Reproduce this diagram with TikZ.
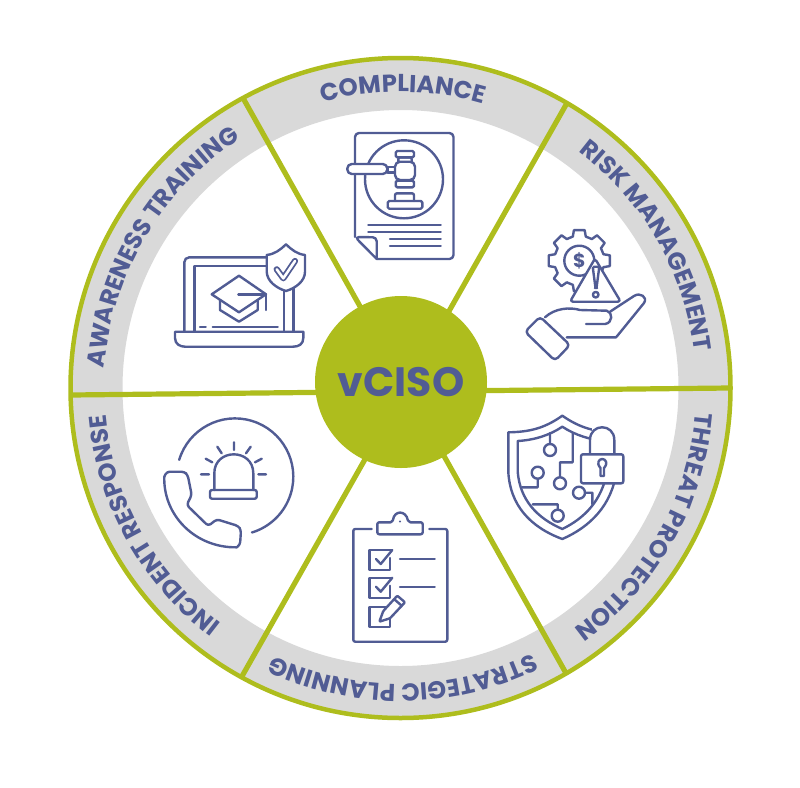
\documentclass[tikz,border=0pt]{standalone}
\usepackage{fontspec}
\setmainfont{Poppins}
\usetikzlibrary{decorations.text}
\definecolor{lime}{HTML}{AEBD1D}
\definecolor{slate}{HTML}{515C94}
\definecolor{band}{HTML}{D9D9D9}
\tikzset{
    spoke/.style = {draw = lime, line width = 5.2pt},
    hub/.style = {circle, fill = lime, text = slate, minimum size = 172pt, inner sep = 0pt, font = \fontsize{41}{41}\selectfont\bfseries},
    icon/.style = {draw = slate, line width = 2.4pt, line join = round, line cap = round},
    cover/.style = {icon, fill = white},
    ringtext/.style = {decorate, decoration = {text along path, text align = center, text = {|\fontsize{24.5}{24.5}\selectfont\bfseries\color{slate}|#1}}}
}
\begin{document}
\begin{tikzpicture}[x = 1pt, y = -1pt]
        \useasboundingbox (0, 0) rectangle (800, 787);
        \coordinate (mid) at (400.5, 388);

        % ring
        \fill [band, even odd rule] (mid) circle [radius = 330] (mid) circle [radius = 278];
        \draw [lime, line width = 4.5pt] (mid) circle [radius = 330];

        \foreach \ang/\txt in {270.5/COMPLIANCE, 330/RISK MANAGEMENT, 29.5/THRE{AT} PROTECTION, 89.5/STRATEGIC PLANNING, 151/INCIDENT RESPONSE, 210.5/{AWA}RENESS TRAINING} {
            \path [ringtext = {\txt}] (mid) ++(\ang - 33:296) arc [start angle = \ang - 33, end angle = \ang + 33, radius = 296];
        }

        % spokes and hub
        \draw [spoke]
            (243, 98) coordinate (rima) -- (567, 675) coordinate (rimd)
            (567, 103) coordinate (rimb) -- (241, 678) coordinate (rime)
            (71, 395) coordinate (rimf) -- (730, 388) coordinate (rimc)
        ;
        \node (center) [hub] at (401, 382) {\raisebox{-3pt}{vCISO}};

        % compliance: page and gavel
        \draw [icon, rounded corners = 4pt] (355, 237) -- (355, 133) -- (453.5, 133) -- (453.5, 259) -- (376.7, 259);
        \draw [icon] (355, 237) -- (376.7, 259) -- (376.7, 245) [rounded corners = 4pt] -- (376.7, 237.3) -- cycle;
        \draw [icon] (404, 179.3) circle [radius = 39];
        \draw [cover, rounded corners = 4.5pt] (347.3, 164) rectangle (387.3, 174);
        \draw [icon] (387.3, 167) rectangle (395, 172.5);
        \draw [cover, rounded corners = 2pt] (398.3, 157.3) rectangle (411.7, 187);
        \draw [cover, rounded corners = 1.5pt] (395.7, 151) rectangle (414, 157.3);
        \draw [cover, rounded corners = 1.5pt] (395.7, 180.7) rectangle (414, 187.3);
        \draw [cover, rounded corners = 5pt] (395, 161.7) rectangle (415, 180);
        \draw [icon, rounded corners = 2pt] (395, 201) -- (395, 193.3) -- (414, 193.3) -- (414, 201);
        \draw [icon, rounded corners = 1.5pt] (387.7, 201) rectangle (422.3, 208.7);
        \draw [icon]
            (368.3, 225) -- (440.7, 225)
            (368.3, 232) -- (440.7, 232)
            (390, 239) -- (440.7, 239)
            (390, 246) -- (440.7, 246)
        ;

        % risk: gear, warning sign and hand
        \begin{scope}[shift = {(579.3, 260.7)}]
            \draw [icon] (-15:25) \foreach \a in {0, 45, ..., 315} { -- (\a - 15:25) -- (\a - 10:31) -- (\a + 10:31) -- (\a + 15:25)} -- cycle;
            \draw [icon] (0, 0) circle [radius = 15];
            \node (dollar) [text = slate, font = \fontsize{19}{19}\selectfont\bfseries] at (0, 0) {\$};
        \end{scope}
        \draw [cover, rounded corners = 3pt] (595, 258.5) -- (570, 301.7) -- (620.7, 301.7) -- cycle;
        \draw [icon, rounded corners = 1.5pt] (592.7, 266.7) -- (599.3, 266.7) -- (596.5, 288) -- (595.5, 288) -- cycle;
        \draw [icon] (595.7, 294.7) circle [radius = 2.8];
        \draw [icon, rounded corners = 4pt] (540, 316.7) -- (570, 345) -- (555, 360.7) -- (525, 331.7) -- cycle;
        \draw [icon] (545, 317.3) .. controls (555, 308) and (570, 307) .. (580, 310) -- (606.7, 310.7) .. controls (613, 312) and (613, 323) .. (605, 324) -- (586, 324);
        \draw [icon] (610, 311.7) -- (634, 296) .. controls (640, 292) and (648, 297) .. (644, 303) -- (618, 335) -- (616, 337.3) -- (566.7, 337.3);

        % threat: shield with circuit and padlock
        \draw [icon] (562.3, 415.7) .. controls (545, 428) and (530, 432) .. (508.3, 432.3) -- (508.3, 471.7) .. controls (510, 505) and (530, 527) .. (562.3, 539) .. controls (590, 527) and (612, 505) .. (616.3, 471.7) -- (616.3, 432.3) .. controls (595, 432) and (580, 428) .. (562.3, 415.7) -- cycle;
        \draw [icon] (562.3, 426.7) .. controls (550, 435) and (535, 440) .. (517.7, 441) -- (517.7, 471.7) .. controls (520, 500) and (537, 518) .. (562.3, 529) .. controls (585, 518) and (602, 500) .. (607, 471.7) -- (607, 441) .. controls (590, 440) and (575, 435) .. (562.3, 426.7) -- cycle;
        \fill [white] (592, 424) rectangle (630, 456);
        \draw [cover] (590, 454.3) -- (590, 440) .. controls (590, 423) and (614.3, 423) .. (614.3, 440) -- (614.3, 454.3) -- cycle;
        \draw [cover, rounded corners = 2pt] (581, 454.3) rectangle (623.3, 483.3);
        \draw [icon] (600.5, 468) .. controls (596, 463) and (599, 459) .. (602.3, 459) .. controls (605.5, 459) and (608.5, 463) .. (604, 468) -- (604, 476) -- (600.5, 476) -- cycle;
        \draw [icon]
            (550, 450) circle [radius = 6]
            (550, 444) -- (550, 433)
            (537.7, 472.7) circle [radius = 6]
            (537.7, 478.7) -- (537.7, 487.3) -- (522.3, 487.3)
            (560, 483.3) circle [radius = 6]
            (560, 477.3) -- (560, 462.3) -- (572.7, 462.3) -- (572.7, 433.3)
            (579, 492.7) circle [radius = 6]
            (585, 492.7) -- (592.3, 492.7) -- (592.3, 504.3)
            (557.7, 515.7) circle [radius = 6]
            (557.7, 509.7) -- (557.7, 504.3) -- (532.7, 504.3)
        ;

        % planning: clipboard
        \draw [icon, rounded corners = 2pt] (371.7, 529) -- (353.3, 529) -- (353.3, 641.7) -- (447.3, 641.7) -- (447.3, 529) -- (429.3, 529);
        \draw [icon, rounded corners = 2pt] (377.3, 534.3) -- (377.3, 522.3) -- (392.7, 522.3) .. controls (394, 510) and (406, 510) .. (408.3, 522.3) -- (422.7, 522.3) -- (422.7, 534.3) -- cycle;
        \fill [slate] (400, 521.5) circle [radius = 1.2];
        \foreach \y in {550, 577.7} {
            \draw [icon] (392, \y) -- (369.3, \y) -- (369.3, \y + 20) -- (390, \y + 20) -- (390, \y + 8);
            \draw [icon] (376, \y + 9) -- (380.7, \y + 14) -- (392.3, \y);
            \draw [icon] (400, \y + 9) -- (434.7, \y + 9);
        }
        \draw [icon] (369.3, 606.7) rectangle (390, 626.7);
        \draw [cover, rounded corners = 1pt] (379.3, 621.7) -- (383.3, 611) -- (397.3, 595.7) -- (405, 602.3) -- (390, 618.3) -- cycle;
        \draw [icon] (394.3, 599.3) -- (401.7, 605.7);

        % incident: alarm light and phone
        \draw [icon] (235, 476.7) ++(196.8:58.3) arc [start angle = 196.8, end angle = 433.1, radius = 58.3];
        \draw [icon] (214.3, 490) -- (214.3, 473.3) .. controls (214.3, 448) and (253.3, 448) .. (253.3, 473.3) -- (253.3, 490);
        \draw [icon, rounded corners = 2pt] (210, 490) rectangle (256.7, 498.7);
        \draw [icon]
            (234, 442.3) -- (234, 450)
            (217.3, 446.7) -- (221.7, 453.3)
            (250.7, 446.7) -- (246, 453.3)
            (205.7, 458.7) -- (212.3, 462.3)
            (261.7, 458.7) -- (255, 462.3)
            (201, 474.3) -- (209, 474.3)
            (258.3, 474.3) -- (266, 474.3)
        ;
        \draw [icon, rounded corners = 3pt] (164.3, 476.7) -- (166.7, 471.7) -- (184.3, 471.7) -- (187.7, 475) -- (191.7, 495) -- (186.7, 505) -- (208.3, 526) -- (216.7, 519.3) -- (238.3, 526) -- (241, 530) -- (240, 545) -- (236.7, 547.3);
        \draw [icon] (236.7, 547.3) .. controls (195, 548) and (163, 515) .. (164.3, 476.7);

        % awareness: laptop, cap and shield
        \draw [icon, rounded corners = 5pt] (266.7, 257.3) -- (184.3, 257.3) -- (184.3, 331.7);
        \draw [icon] (266.7, 266) -- (194.3, 266) -- (194.3, 331.7);
        \draw [icon]
            (284, 288.3) -- (284, 331.7)
            (293.3, 288.3) -- (293.3, 331.7)
            (200, 327) -- (205.7, 327)
            (212.7, 327) -- (277.7, 327)
        ;
        \draw [icon] (175, 331.7) -- (175, 338) .. controls (175, 344) and (180, 346.7) .. (185, 346.7) -- (293, 346.7) .. controls (299, 346.7) and (303.3, 344) .. (303.3, 338) -- (303.3, 331.7) -- cycle;
        \draw [cover] (286, 244.3) .. controls (280, 250) and (275, 254) .. (266.7, 255) -- (266.7, 271.7) .. controls (267, 281) and (276, 288) .. (286, 291) .. controls (296, 288) and (305, 281) .. (305, 271.7) -- (305, 255) .. controls (297, 254) and (292, 250) .. (286, 244.3) -- cycle;
        \draw [icon, line width = 1.8pt, double = white, double distance = 2.6pt] (276.7, 269.3) -- (283.3, 278.3) -- (295, 261);
        \draw [icon] (239, 275.7) -- (211.7, 294.3) -- (239, 312.3) -- (266, 294.3) -- cycle;
        \draw [icon] (220, 300) -- (220, 310) -- (239, 321.7) -- (257.7, 310) -- (257.7, 300);
        \draw [icon] (238.3, 294.3) -- (266, 294.3) -- (266, 310);
    \end{tikzpicture}
\end{document}
